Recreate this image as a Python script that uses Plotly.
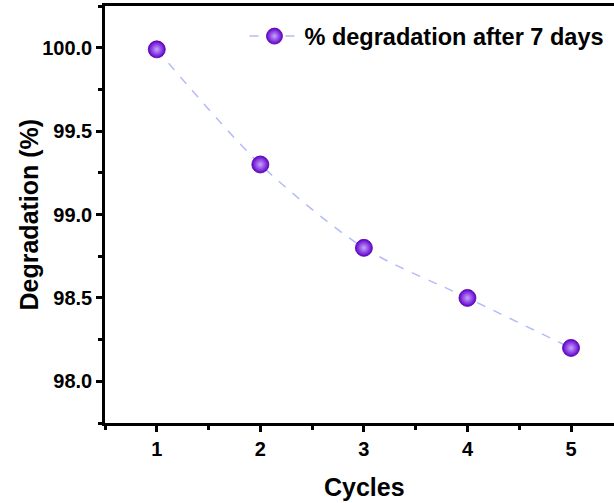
import plotly.graph_objects as go

cycles = [1, 2, 3, 4, 5]
degradation = [99.99, 99.30, 98.80, 98.50, 98.20]
series_name = "% degradation after 7 days"
x_title = "Cycles"
y_title = "Degradation (%)"
x_ticks = [1, 2, 3, 4, 5]
y_ticks = [98.0, 98.5, 99.0, 99.5, 100.0]
y_tick_labels = ["98.0", "98.5", "99.0", "99.5", "100.0"]

FONT = "Arial, Liberation Sans"

fig = go.Figure()
fig.add_trace(go.Scatter(
    x=cycles, y=degradation, name=series_name, mode="lines+markers",
    line=dict(color="#b4bcf6", width=1.5, dash="dash", shape="spline", smoothing=0.8),
    marker=dict(size=17, color="#6200cc",
                gradient=dict(type="radial", color="#c8a4ff"),
                line=dict(color="#5200a8", width=0.8)),
))

axis_common = dict(
    showline=True, linecolor="black", linewidth=2.5,
    ticks="outside", ticklen=6, tickwidth=2.5, tickcolor="black",
    showgrid=False, zeroline=False, automargin=False,
    tickfont=dict(family=FONT, size=20, color="black", weight="bold"),
    minor=dict(ticks="outside", ticklen=4, tickwidth=2.5, tickcolor="black", showgrid=False),
)

fig.update_xaxes(range=[0.5, 5.415], tickvals=x_ticks, mirror=True,
                 minor_dtick=0.5, **axis_common)
fig.update_yaxes(range=[97.75, 100.25], tickvals=y_ticks, ticktext=y_tick_labels,
                 minor_dtick=0.25, **axis_common)

title_font = dict(family=FONT, size=25, color="black", weight="bold")
fig.add_annotation(text=x_title, xref="paper", yref="paper", x=0.509, y=0,
                   yshift=-64, showarrow=False, font=title_font,
                   xanchor="center", yanchor="middle")
fig.add_annotation(text=y_title, xref="paper", yref="paper", x=0, y=0.5,
                   xshift=-77, textangle=-90, showarrow=False, font=title_font,
                   xanchor="center", yanchor="middle")

fig.update_layout(
    width=614, height=503,
    margin=dict(l=105, r=0, t=6, b=80),
    plot_bgcolor="white", paper_bgcolor="white",
    showlegend=True,
    legend=dict(x=0.274, y=0.98, xanchor="left", yanchor="top",
                itemwidth=50,
                bgcolor="rgba(0,0,0,0)",
                font=dict(family=FONT, size=23.5, color="black", weight="bold")),
)

fig.write_html("out.html", config={"displayModeBar": False},
               post_script="document.body.style.margin='0';")
